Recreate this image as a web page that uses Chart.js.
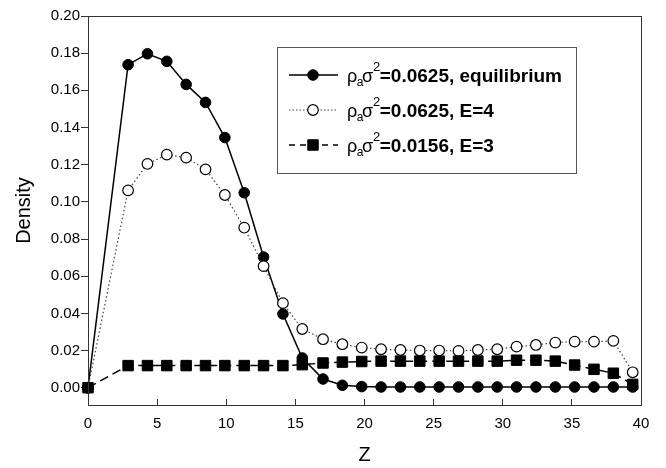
<!DOCTYPE html>
<html lang="en">
<head>
    <meta charset="UTF-8">
    <title>Density profile</title>
    <script src="https://cdn.jsdelivr.net/npm/chart.js@4"></script>
    <style>
        body { margin: 0; background: #fff; }
        canvas { display: block; }
    </style>
</head>
<body>
    <canvas id="densityChart" width="666" height="468"></canvas>

    <script>
        // z positions of the sampled points (shared by all three curves)
        const zValues = [0, 2.9, 4.3, 5.7, 7.1, 8.5, 9.9, 11.3, 12.7, 14.1, 15.5, 17.0, 18.4, 19.8,
                         21.2, 22.6, 24.0, 25.4, 26.8, 28.2, 29.6, 31.0, 32.4, 33.8, 35.2, 36.6, 38.0, 39.4];

        const equilibrium = [0, 0.1738, 0.1797, 0.1756, 0.1632, 0.1535, 0.1346, 0.1049, 0.0703, 0.0397,
                             0.0160, 0.0047, 0.0013, 0.0006, 0.0004, 0.0004, 0.0004, 0.0004, 0.0004, 0.0004,
                             0.0004, 0.0004, 0.0004, 0.0004, 0.0004, 0.0004, 0.0004, 0.0004];

        const fieldE4 = [0, 0.1062, 0.1204, 0.1254, 0.1238, 0.1175, 0.1037, 0.0861, 0.0654, 0.0455,
                         0.0316, 0.0261, 0.0234, 0.0216, 0.0207, 0.0203, 0.0200, 0.0200, 0.0198, 0.0203,
                         0.0207, 0.0221, 0.0230, 0.0243, 0.0248, 0.0248, 0.0252, 0.0083];

        const fieldE3 = [0, 0.0119, 0.0119, 0.0119, 0.0119, 0.0119, 0.0119, 0.0119, 0.0119, 0.0119,
                         0.0124, 0.0133, 0.0138, 0.0141, 0.0143, 0.0143, 0.0143, 0.0143, 0.0143, 0.0143,
                         0.0143, 0.0148, 0.0148, 0.0143, 0.0122, 0.0099, 0.0078, 0.0018];

        const xTicks = [0, 5, 10, 15, 20, 25, 30, 35, 40];
        const yTicks = [0, 0.02, 0.04, 0.06, 0.08, 0.10, 0.12, 0.14, 0.16, 0.18, 0.20];

        // legend text after the "ρ_a σ^2" part
        const legendLabels = ['=0.0625, equilibrium', '=0.0625, E=4', '=0.0156, E=3'];

        const FONT = '"Liberation Sans", Arial, sans-serif';
        Chart.defaults.font.family = FONT;
        Chart.defaults.color = '#000';

        function toPoints(values) {
            return values.map((v, i) => ({ x: zValues[i], y: v }));
        }

        function drawMarker(ctx, ds, x, y) {
            ctx.setLineDash([]);
            ctx.fillStyle = ds.pointBackgroundColor;
            ctx.strokeStyle = ds.pointBorderColor;
            ctx.lineWidth = ds.pointBorderWidth;
            ctx.beginPath();
            if (ds.pointStyle === 'rect') {
                const s = ds.pointRadius * Math.SQRT1_2;
                ctx.rect(x - s, y - s, 2 * s, 2 * s);
            } else {
                ctx.arc(x, y, ds.pointRadius, 0, Math.PI * 2);
            }
            ctx.fill();
            ctx.stroke();
        }

        // frame around the plot plus the boxed legend with sub/superscripts
        const frameAndLegend = {
            id: 'frameAndLegend',
            afterDraw(chart) {
                const ctx = chart.ctx;
                const a = chart.chartArea;
                ctx.save();
                ctx.strokeStyle = '#333';
                ctx.lineWidth = 1;
                ctx.strokeRect(a.left + 0.5, a.top + 0.5, a.right - a.left, a.bottom - a.top);

                ctx.strokeStyle = '#555';
                ctx.fillStyle = '#fff';
                ctx.fillRect(277.5, 47.5, 299, 126);
                ctx.strokeRect(277.5, 47.5, 299, 126);

                legendLabels.forEach((label, i) => {
                    const ds = chart.data.datasets[i];
                    const y = 75 + i * 35;
                    ctx.setLineDash(ds.borderDash ? ds.legendDash : []);
                    ctx.strokeStyle = ds.borderColor;
                    ctx.lineWidth = ds.borderWidth;
                    ctx.beginPath();
                    ctx.moveTo(289, y);
                    ctx.lineTo(338, y);
                    ctx.stroke();
                    drawMarker(ctx, ds, 313, y);

                    const base = y + 6.5;
                    let x = 347;
                    ctx.fillStyle = '#000';
                    ctx.textAlign = 'left';
                    ctx.textBaseline = 'alphabetic';
                    ctx.font = '18px ' + FONT;
                    ctx.fillText('ρ', x, base);
                    x += ctx.measureText('ρ').width - 0.5;
                    ctx.font = '12px ' + FONT;
                    ctx.fillText('a', x, base + 4.5);
                    x += ctx.measureText('a').width - 1.5;
                    ctx.font = '18px ' + FONT;
                    ctx.fillText('σ', x, base);
                    x += ctx.measureText('σ').width;
                    ctx.font = '13px ' + FONT;
                    ctx.fillText('2', x, base - 11);
                    x += ctx.measureText('2').width - 0.5;
                    ctx.font = 'bold 19px ' + FONT;
                    ctx.fillText(label, x, base);
                });
                ctx.restore();
            }
        };

        const ctx = document.getElementById('densityChart').getContext('2d');
        new Chart(ctx, {
            type: 'line',
            data: {
                datasets: [
                    {
                        data: toPoints(equilibrium),
                        borderColor: '#000',
                        borderWidth: 1.5,
                        pointStyle: 'circle',
                        pointRadius: 5.3,
                        pointBackgroundColor: '#000',
                        pointBorderColor: '#000',
                        pointBorderWidth: 1,
                        clip: false,
                        order: 3
                    },
                    {
                        data: toPoints(fieldE4),
                        borderColor: '#444',
                        borderWidth: 1.2,
                        borderDash: [1.5, 2.5],
                        legendDash: [1.5, 2],
                        pointStyle: 'circle',
                        pointRadius: 5.3,
                        pointBackgroundColor: '#fff',
                        pointBorderColor: '#000',
                        pointBorderWidth: 1.2,
                        clip: false,
                        order: 2
                    },
                    {
                        data: toPoints(fieldE3),
                        borderColor: '#000',
                        borderWidth: 1.5,
                        borderDash: [9, 5],
                        legendDash: [6, 5],
                        pointStyle: 'rect',
                        pointRadius: 7.4,
                        pointBackgroundColor: '#000',
                        pointBorderColor: '#000',
                        pointBorderWidth: 1,
                        clip: false,
                        order: 1
                    }
                ]
            },
            options: {
                responsive: false,
                animation: false,
                layout: { padding: { top: 16, right: 25, left: 0, bottom: 0 } },
                plugins: {
                    legend: { display: false },
                    tooltip: { enabled: false }
                },
                scales: {
                    x: {
                        type: 'linear',
                        min: 0,
                        max: 40,
                        afterBuildTicks: s => { s.ticks = xTicks.map(v => ({ value: v })); },
                        afterFit: s => { s.height = 63; },
                        border: { display: false },
                        grid: { drawOnChartArea: false, tickLength: -6, color: '#333' },
                        ticks: { font: { size: 15 }, color: '#000', padding: 16, maxRotation: 0, callback: v => v },
                        title: { display: true, text: 'Z', font: { size: 20 }, color: '#000', padding: { top: 0, bottom: 1 } }
                    },
                    y: {
                        min: -0.0093,
                        max: 0.20,
                        afterBuildTicks: s => { s.ticks = yTicks.map(v => ({ value: v })); },
                        afterFit: s => { s.width = 88; },
                        border: { display: false },
                        grid: { drawOnChartArea: false, tickLength: 7, color: '#333' },
                        ticks: { font: { size: 15 }, color: '#000', padding: 1, callback: v => v.toFixed(2) },
                        title: { display: true, text: 'Density', font: { size: 20 }, color: '#000', padding: { top: 12, bottom: 0 } }
                    }
                }
            },
            plugins: [frameAndLegend]
        });
    </script>
</body>
</html>
